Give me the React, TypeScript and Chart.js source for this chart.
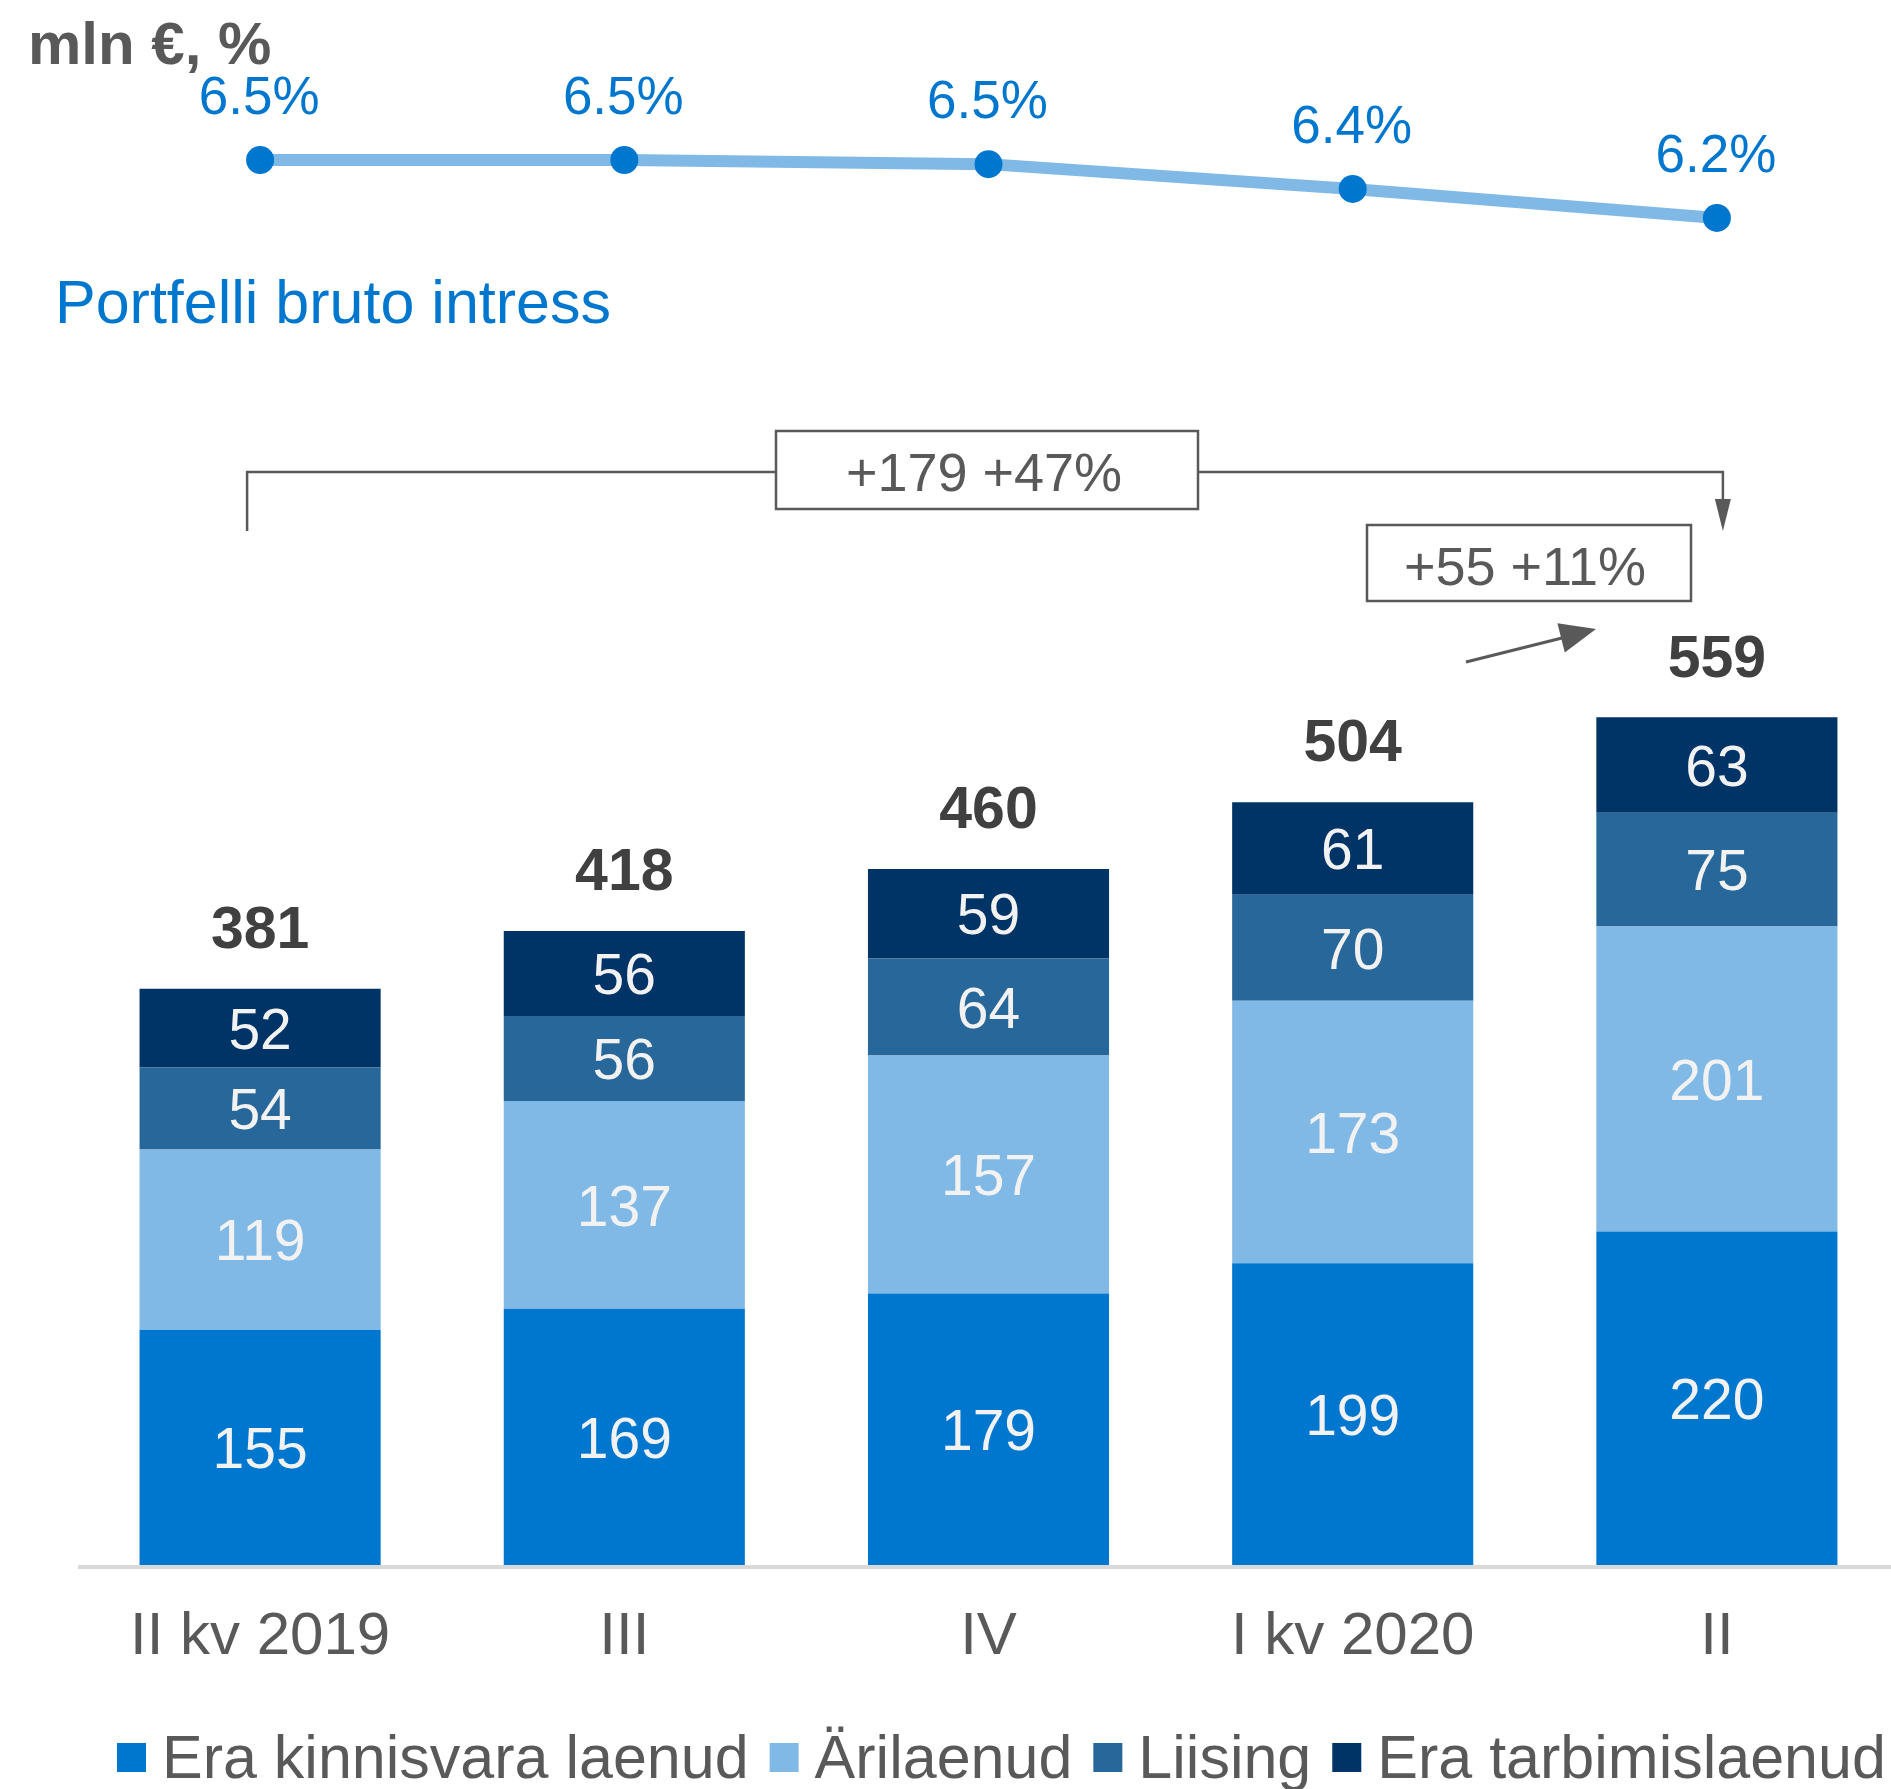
import React, { useEffect, useRef } from "react";
import { Chart, registerables } from "chart.js";

Chart.register(...registerables);

// ---------- data ----------
const categories = ["II kv 2019", "III", "IV", "I kv 2020", "II"];
const eraKinnisvara = [155, 169, 179, 199, 220];
const arilaenud = [119, 137, 157, 173, 201];
const liising = [54, 56, 64, 70, 75];
const eraTarbimis = [52, 56, 59, 61, 63];
const totals = [381, 418, 460, 504, 559];
const interestRate = [6.5, 6.5, 6.48, 6.36, 6.22];

const seriesNames = ["Era kinnisvara laenud", "Ärilaenud", "Liising", "Era tarbimislaenud"];
const seriesColors = ["#0077cf", "#80b9e6", "#276799", "#003366"];
const lineName = "Portfelli bruto intress";
const unitLabel = "mln €, %";
const changeTotal = "+179 +47%";
const changeQuarter = "+55 +11%";

const FONT = "'Liberation Sans', Arial, sans-serif";
const GRAY = "#595959";

const barSeries = [eraKinnisvara, arilaenud, liising, eraTarbimis];

function arrowHead(ctx: CanvasRenderingContext2D, fx: number, fy: number, tx: number, ty: number, len: number, half: number) {
  const ang = Math.atan2(ty - fy, tx - fx);
  const bx = tx - Math.cos(ang) * len;
  const by = ty - Math.sin(ang) * len;
  const nx = -Math.sin(ang) * half;
  const ny = Math.cos(ang) * half;
  ctx.beginPath();
  ctx.moveTo(tx, ty);
  ctx.lineTo(bx + nx, by + ny);
  ctx.lineTo(bx - nx, by - ny);
  ctx.closePath();
  ctx.fill();
}

const axisLinePlugin = {
  id: "axisLine",
  beforeDatasetsDraw(chart: any) {
    const { ctx, chartArea } = chart;
    ctx.save();
    ctx.fillStyle = "#d9d9d9";
    ctx.fillRect(chartArea.left, chartArea.bottom, chartArea.right - chartArea.left, 4);
    ctx.restore();
  },
};

const overlayPlugin = {
  id: "overlay",
  afterDatasetsDraw(chart: any) {
    const ctx: CanvasRenderingContext2D = chart.ctx;
    const xs = chart.scales.x;
    ctx.save();

    // segment value labels
    ctx.textAlign = "center";
    ctx.textBaseline = "middle";
    ctx.font = `57px ${FONT}`;
    ctx.fillStyle = "#f2f2f2";
    for (let d = 0; d < barSeries.length; d++) {
      const meta = chart.getDatasetMeta(d);
      meta.data.forEach((el: any, i: number) => {
        const p = el.getProps(["x", "y", "base"], true);
        ctx.fillText(String(barSeries[d][i]), p.x, (p.y + p.base) / 2 + 5);
      });
    }

    // totals
    ctx.font = `bold 59px ${FONT}`;
    ctx.fillStyle = "#404040";
    const topMeta = chart.getDatasetMeta(barSeries.length - 1);
    topMeta.data.forEach((el: any, i: number) => {
      ctx.fillText(String(totals[i]), el.x, el.y - 57);
    });

    // line labels
    ctx.textBaseline = "alphabetic";
    ctx.font = `53px ${FONT}`;
    ctx.fillStyle = "#0077cf";
    const lineMeta = chart.getDatasetMeta(barSeries.length);
    lineMeta.data.forEach((pt: any, i: number) => {
      ctx.fillText(interestRate[i].toFixed(1) + "%", pt.x - 1, pt.y - 46);
    });

    // unit label and line name
    ctx.textAlign = "left";
    ctx.font = `bold 60px ${FONT}`;
    ctx.fillStyle = GRAY;
    ctx.fillText(unitLabel, 28, 64);
    ctx.font = `61px ${FONT}`;
    ctx.fillStyle = "#0077cf";
    ctx.fillText(lineName, 55, 323);

    // bracket annotation (+179 +47%)
    const xL = xs.getPixelForValue(0) - 13;
    const xR = xs.getPixelForValue(4) + 6;
    const yB = 472;
    const box1L = 776, box1R = 1198, box1T = 431, box1B = 509;
    ctx.strokeStyle = GRAY;
    ctx.fillStyle = GRAY;
    ctx.lineWidth = 2.5;
    ctx.beginPath();
    ctx.moveTo(xL, 531);
    ctx.lineTo(xL, yB);
    ctx.lineTo(box1L, yB);
    ctx.moveTo(box1R, yB);
    ctx.lineTo(xR, yB);
    ctx.lineTo(xR, 500);
    ctx.stroke();
    arrowHead(ctx, xR, yB, xR, 531, 32, 8);
    ctx.lineWidth = 2.5;
    ctx.strokeRect(box1L, box1T, box1R - box1L, box1B - box1T);
    ctx.textAlign = "center";
    ctx.font = `54px ${FONT}`;
    ctx.fillText(changeTotal, (box1L + box1R) / 2 - 3, 491);

    // quarter change box
    const box2L = 1367, box2R = 1691, box2T = 525, box2B = 601;
    ctx.strokeRect(box2L, box2T, box2R - box2L, box2B - box2T);
    ctx.fillText(changeQuarter, (box2L + box2R) / 2 - 4, 585);

    // small arrow
    ctx.lineWidth = 3;
    ctx.beginPath();
    ctx.moveTo(1466, 662);
    ctx.lineTo(1566, 637);
    ctx.stroke();
    arrowHead(ctx, 1466, 662, 1596, 629, 36, 15);

    // legend
    ctx.textAlign = "left";
    ctx.textBaseline = "alphabetic";
    ctx.font = `61px ${FONT}`;
    let lx = 117;
    for (let i = 0; i < seriesNames.length; i++) {
      ctx.fillStyle = seriesColors[i];
      ctx.fillRect(lx, 1743, 29, 29);
      ctx.fillStyle = GRAY;
      const tx = lx + 45;
      ctx.fillText(seriesNames[i], tx, 1778);
      lx = tx + ctx.measureText(seriesNames[i]).width + 21;
    }

    ctx.restore();
  },
};

export default function App() {
  const ref = useRef<HTMLCanvasElement>(null);

  useEffect(() => {
    if (!ref.current) return;
    const datasets: any[] = barSeries.map((vals, i) => ({
      type: "bar",
      label: seriesNames[i],
      data: vals,
      backgroundColor: seriesColors[i],
      borderWidth: 0,
      barPercentage: 1,
      categoryPercentage: 0.662,
      yAxisID: "y",
      order: 2,
    }));
    datasets.push({
      type: "line",
      label: lineName,
      data: interestRate,
      yAxisID: "y2",
      borderColor: "#80b9e6",
      borderWidth: 12,
      pointRadius: 14,
      pointBackgroundColor: "#0077cf",
      pointBorderColor: "#0077cf",
      pointBorderWidth: 0,
      tension: 0,
      order: 1,
    });

    const chart = new Chart(ref.current, {
      type: "bar",
      data: { labels: categories, datasets },
      options: {
        animation: false,
        responsive: true,
        maintainAspectRatio: false,
        devicePixelRatio: 1,
        events: [],
        layout: { autoPadding: false, padding: { left: 78, right: 0, top: 0, bottom: 0 } },
        plugins: {
          legend: { display: false },
          tooltip: { enabled: false },
        },
        scales: {
          x: {
            stacked: true,
            offset: true,
            grid: { display: false, drawTicks: false },
            border: { display: false },
            ticks: {
              color: GRAY,
              font: { size: 60, family: FONT },
              padding: 36,
              maxRotation: 0,
              autoSkip: false,
            },
            afterFit: (s: any) => {
              s.height = 224;
            },
          },
          y: {
            stacked: true,
            display: false,
            min: 0,
            max: 1032,
          },
          y2: {
            display: false,
            min: -0.2874,
            max: 7.2729,
          },
        },
      } as any,
      plugins: [axisLinePlugin, overlayPlugin],
    });
    return () => chart.destroy();
  }, []);

  return (
    <div
      style={{
        position: "absolute",
        left: 0,
        top: 0,
        width: 1891,
        height: 1789,
        overflow: "hidden",
        background: "#ffffff",
      }}
    >
      <div style={{ position: "relative", width: 1899, height: 1789 }}>
        <canvas ref={ref} />
      </div>
    </div>
  );
}
